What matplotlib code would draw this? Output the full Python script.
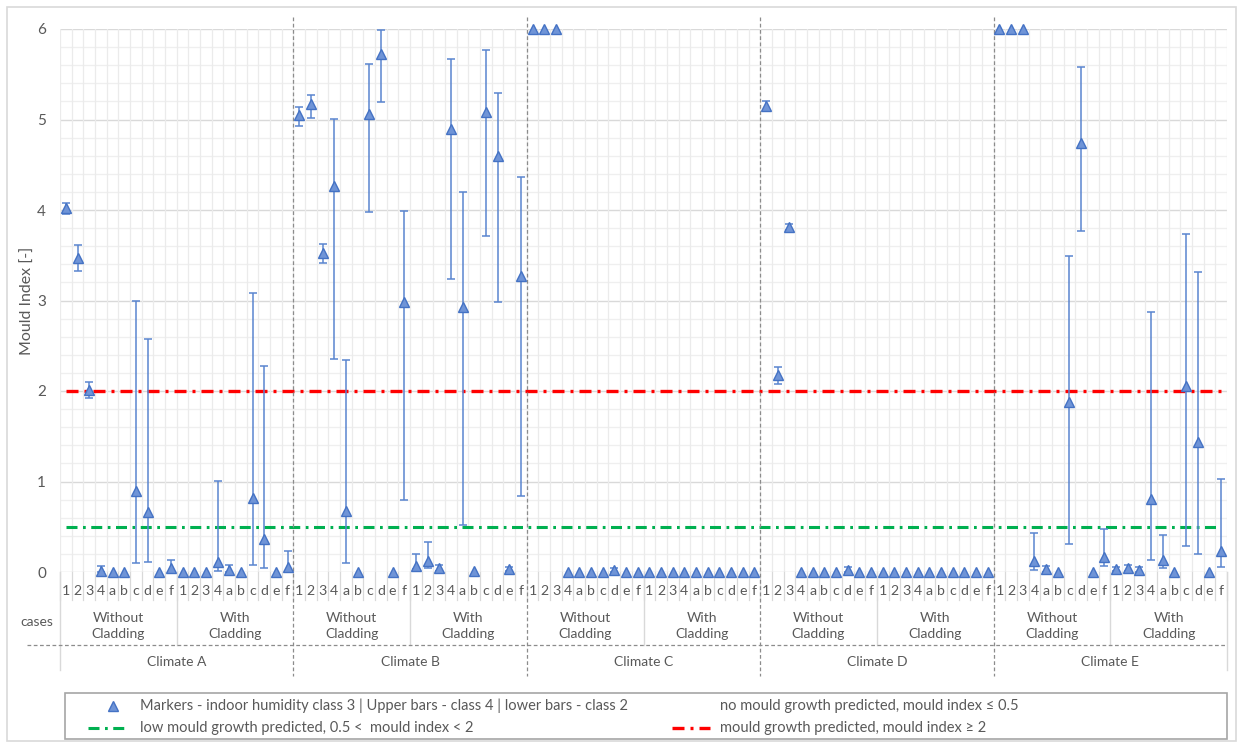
import matplotlib
matplotlib.use("Agg")
import matplotlib.pyplot as plt
import numpy as np
from matplotlib.transforms import blended_transform_factory
from matplotlib.lines import Line2D
from matplotlib.patches import Rectangle

plt.rcParams['font.family'] = ['Lato', 'DejaVu Sans']

# ---- data -------------------------------------------------------------
climates = ["Climate A", "Climate B", "Climate C", "Climate D", "Climate E"]
claddings = ["Without\nCladding", "With\nCladding"]
cases = ["1", "2", "3", "4", "a", "b", "c", "d", "e", "f"]

# mould index per climate: 10 cases without cladding, then 10 with cladding
index_A = [4.02, 3.47, 2.01, 0.01, 0, 0, 0.90, 0.66, 0, 0.04,
           0, 0, 0, 0.11, 0.02, 0, 0.82, 0.36, 0, 0.05]
upper_A = [4.08, 3.61, 2.10, 0.07, 0, 0, 2.99, 2.57, 0, 0.13,
           0, 0, 0, 1.01, 0.08, 0, 3.08, 2.28, 0, 0.23]
lower_A = [3.96, 3.33, 1.92, 0, 0, 0, 0.10, 0.11, 0, 0,
           0, 0, 0, 0.01, 0, 0, 0.08, 0.04, 0, 0]

index_B = [5.05, 5.17, 3.52, 4.26, 0.67, 0, 5.06, 5.72, 0, 2.98,
           0.07, 0.12, 0.04, 4.89, 2.93, 0.01, 5.08, 4.60, 0.03, 3.27]
upper_B = [5.14, 5.27, 3.62, 5.01, 2.34, 0, 5.61, 5.99, 0, 3.99,
           0.20, 0.33, 0.08, 5.67, 4.20, 0.01, 5.77, 5.29, 0.06, 4.36]
lower_B = [4.93, 5.02, 3.41, 2.35, 0.10, 0, 3.98, 5.19, 0, 0.80,
           0.03, 0.04, 0.01, 3.24, 0.52, 0.01, 3.71, 2.98, 0.01, 0.84]

index_C = [6, 6, 6, 0, 0, 0, 0, 0.02, 0, 0,
           0, 0, 0, 0, 0, 0, 0, 0, 0, 0]
upper_C = [6, 6, 6, 0, 0, 0, 0, 0.04, 0, 0,
           0, 0, 0, 0, 0, 0, 0, 0, 0, 0]
lower_C = [6, 6, 6, 0, 0, 0, 0, 0.0, 0, 0,
           0, 0, 0, 0, 0, 0, 0, 0, 0, 0]

index_D = [5.15, 2.18, 3.81, 0, 0, 0, 0, 0.02, 0, 0,
           0, 0, 0, 0, 0, 0, 0, 0, 0, 0]
upper_D = [5.20, 2.27, 3.85, 0, 0, 0, 0, 0.06, 0, 0,
           0, 0, 0, 0, 0, 0, 0, 0, 0, 0]
lower_D = [5.11, 2.08, 3.78, 0, 0, 0, 0, 0.0, 0, 0,
           0, 0, 0, 0, 0, 0, 0, 0, 0, 0]

index_E = [6, 6, 6, 0.12, 0.03, 0, 1.88, 4.74, 0, 0.17,
           0.03, 0.04, 0.02, 0.81, 0.13, 0, 2.05, 1.44, 0, 0.23]
upper_E = [6, 6, 6, 0.43, 0.07, 0, 3.49, 5.58, 0, 0.47,
           0.06, 0.08, 0.05, 2.87, 0.41, 0, 3.73, 3.32, 0, 1.03]
lower_E = [6, 6, 6, 0.02, 0, 0, 0.31, 3.77, 0, 0.07,
           0.01, 0.01, 0, 0.13, 0.04, 0, 0.29, 0.20, 0, 0.06]

low_threshold = 0.5
high_threshold = 2.0

legend_labels = [
    "Markers - indoor humidity class 3 | Upper bars - class 4 | lower bars - class 2",
    "no mould growth predicted, mould index \u2264 0.5",
    "low mould growth predicted, 0.5 <  mould index < 2",
    "mould growth predicted, mould index \u2265 2",
]

# ---- assemble ---------------------------------------------------------
mould = np.array(index_A + index_B + index_C + index_D + index_E, dtype=float)
upper = np.array(upper_A + upper_B + upper_C + upper_D + upper_E, dtype=float)
lower = np.array(lower_A + lower_B + lower_C + lower_D + lower_E, dtype=float)
n = len(mould)
x = np.arange(n)
per_group = len(cases)
per_climate = per_group * len(claddings)

W, H = 1243, 747
fig = plt.figure(figsize=(W / 100, H / 100), dpi=100)


def fx(px):
    return px / W


def fy(py):
    return 1 - py / H


left, right, top, bottom = 60, 1227, 29, 572
ax = fig.add_axes([fx(left), fy(bottom), fx(right) - fx(left), fy(top) - fy(bottom)])
ax.set_xlim(-0.5, n - 0.5)
ax.set_ylim(0, 6)

text_col = "#595959"
blue_edge = "#4472C4"
blue_fill = "#6F94D7"
bar_col = "#5A85CF"

# gridlines
for v in np.arange(0, 6.01, 0.2):
    major = abs(v - round(v)) < 1e-6
    ax.axhline(v, color="#D9D9D9" if major else "#EFEFEF", lw=1.0 if major else 0.9, zorder=0)
for b in np.arange(-0.5, n, 1.0):
    ax.axvline(b, color="#EBEBEB", lw=0.9, zorder=0)

for s in ax.spines.values():
    s.set_visible(False)
ax.tick_params(axis="x", which="both", length=0, labelbottom=False)
ax.tick_params(axis="y", length=0, labelsize=11, colors=text_col, pad=10)
ax.set_yticks(range(7))
ax.set_ylabel("Mould Index [-]", fontsize=11.5, color=text_col)
ax.yaxis.set_label_coords((35 - left) / (right - left), 0.5)

# threshold lines, from first to last category centre
ax.plot([x[0], x[-1]], [high_threshold] * 2, color="#FF0000", lw=2.4,
        dashes=(3.6, 1.8, 0.9, 1.8), zorder=2)
ax.plot([x[0], x[-1]], [low_threshold] * 2, color="#00B050", lw=2.2,
        dashes=(3.6, 1.8, 0.9, 1.8), zorder=2)

# error bars (only where a range exists)
has_bar = (upper > mould) | (lower < mould)
ax.errorbar(x[has_bar], mould[has_bar],
            yerr=[mould[has_bar] - lower[has_bar], upper[has_bar] - mould[has_bar]],
            fmt="none", ecolor=bar_col, elinewidth=1.1, capsize=3.2, capthick=1.1,
            zorder=3, clip_on=False)

# markers
ax.plot(x, mould, linestyle="none", marker="^", markersize=7.8,
        markerfacecolor=blue_fill, markeredgecolor=blue_edge, markeredgewidth=1.0,
        zorder=4, clip_on=False)

# ---- hierarchical category axis --------------------------------------
tr = blended_transform_factory(ax.transData, fig.transFigure)
sep_col = "#D9D9D9"

for i, lab in enumerate(cases * (n // per_group)):
    ax.text(i, fy(591), lab, transform=tr, ha="center", va="center",
            fontsize=10.2, color=text_col, clip_on=False)

# case separators
for b in np.arange(-0.5, n, 1.0):
    ax.add_line(Line2D([b, b], [fy(572), fy(600)], transform=tr, color=sep_col,
                       lw=0.9, clip_on=False))

# cladding group labels and separators
for g in range(n // per_group):
    cx = g * per_group + (per_group - 1) / 2
    ax.text(cx, fy(626), claddings[g % 2], transform=tr, ha="center", va="center",
            fontsize=10, color=text_col, linespacing=1.3, clip_on=False)
    if g % 2 == 1:
        b = g * per_group - 0.5
        ax.add_line(Line2D([b, b], [fy(572), fy(645)], transform=tr, color=sep_col,
                           lw=1.0, clip_on=False))

# climate labels and separators
for c, name in enumerate(climates):
    cx = c * per_climate + (per_climate - 1) / 2
    ax.text(cx, fy(662), name, transform=tr, ha="center", va="center",
            fontsize=10, color=text_col, clip_on=False)
for c in range(1, len(climates)):
    b = c * per_climate - 0.5
    ax.add_line(Line2D([b, b], [fy(17), fy(676)], transform=tr, color="#8C8C8C",
                       lw=0.9, linestyle=(0, (3, 2)), clip_on=False))
for b in (-0.5, n - 0.5):
    ax.add_line(Line2D([b, b], [fy(572), fy(670)], transform=tr, color=sep_col,
                       lw=1.0, clip_on=False))

fig.add_artist(Line2D([fx(27), fx(right)], [fy(645), fy(645)], color="#8C8C8C",
                      lw=0.9, linestyle=(0, (3, 2))))
fig.text(fx(37), fy(622), "cases", ha="center", va="center", fontsize=10, color=text_col)

# ---- legend -----------------------------------------------------------
fig.add_artist(Rectangle((fx(65), fy(739)), fx(1227) - fx(65), fy(693) - fy(739),
                         transform=fig.transFigure, fill=False, edgecolor="#A6A6A6", lw=1.2))
fig.add_artist(Line2D([fx(113)], [fy(706)], marker="^", markersize=7.8, linestyle="none",
                      markerfacecolor=blue_fill, markeredgecolor=blue_edge))
fig.add_artist(Line2D([fx(88), fx(127)], [fy(728)] * 2, color="#00B050", lw=2.2,
                      dashes=(3.6, 1.8, 0.9, 1.8)))
fig.add_artist(Line2D([fx(672), fx(710)], [fy(728)] * 2, color="#FF0000", lw=2.4,
                      dashes=(3.6, 1.8, 0.9, 1.8)))
leg_pos = [(140, 706), (720, 706), (140, 728), (720, 728)]
for (px, py), lab in zip(leg_pos, legend_labels):
    fig.text(fx(px), fy(py), lab, ha="left", va="center", fontsize=10.5, color=text_col)

# outer chart border
fig.add_artist(Rectangle((fx(7), fy(741)), fx(1236) - fx(7), fy(7) - fy(741),
                         transform=fig.transFigure, fill=False, edgecolor="#D9D9D9", lw=1.2))

fig.savefig("out.png", dpi=100)
